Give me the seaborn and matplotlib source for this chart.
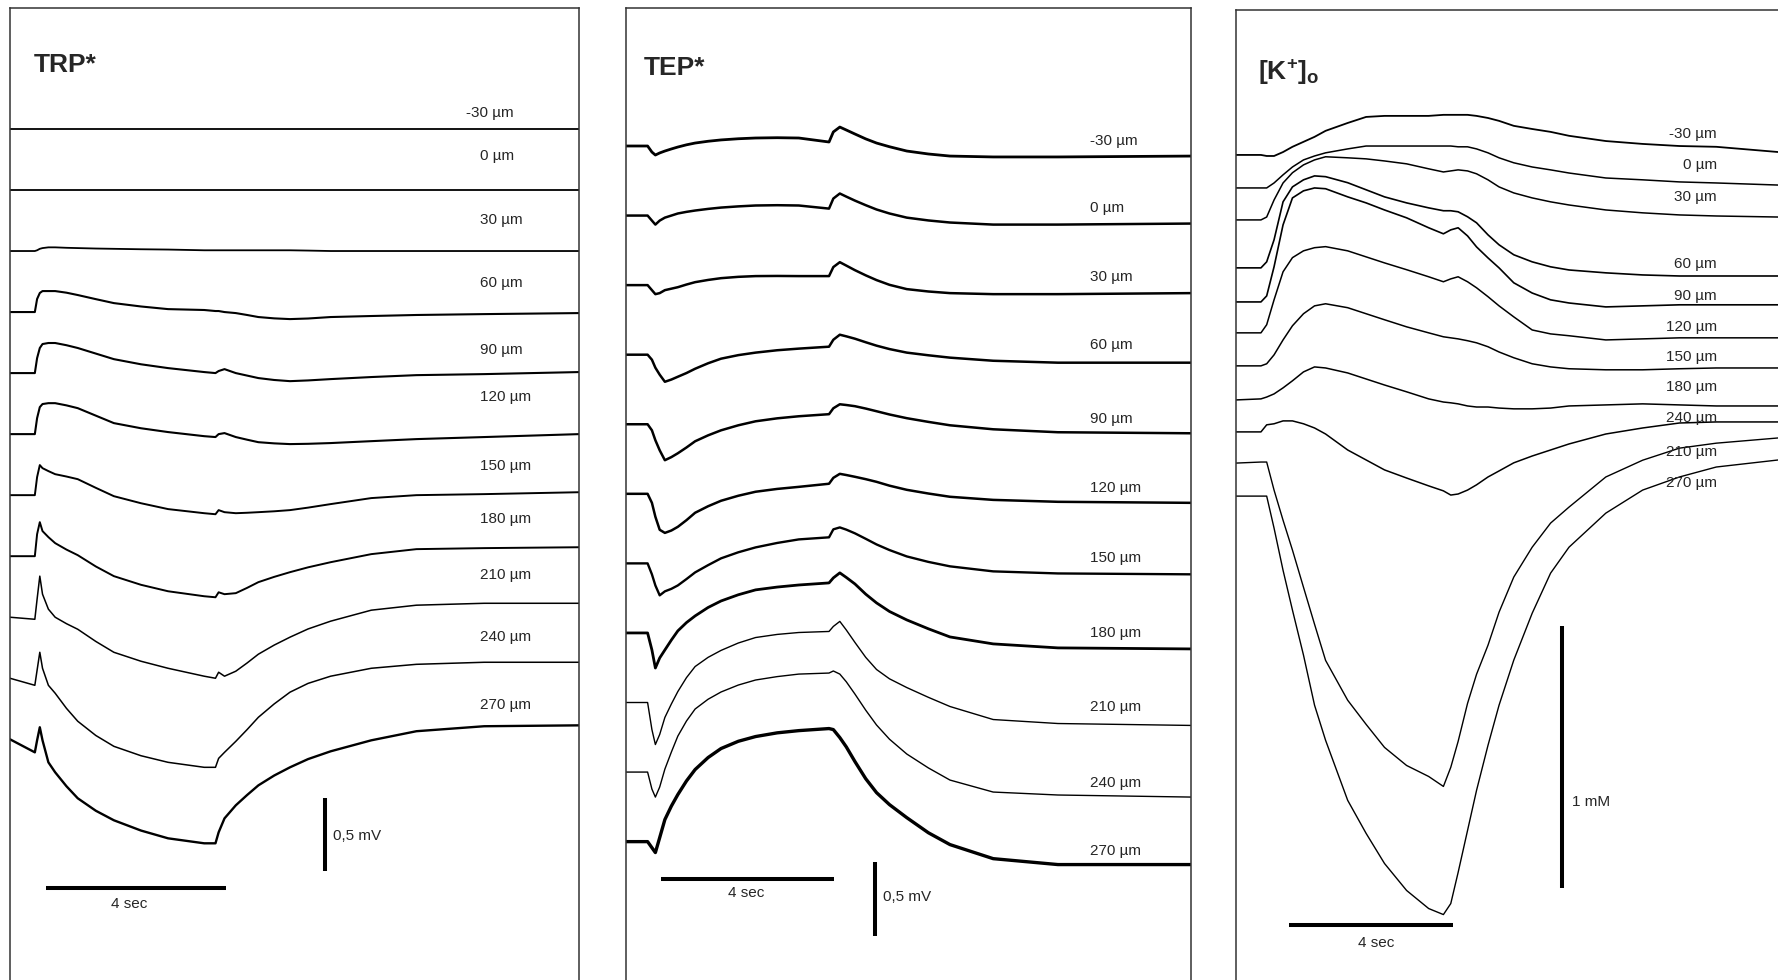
import numpy as np
import matplotlib
matplotlib.use("Agg")
import matplotlib.pyplot as plt
import seaborn as sns

# ---------------- data ----------------
depth_labels = ["-30 µm", "0 µm", "30 µm", "60 µm", "90 µm", "120 µm",
                "150 µm", "180 µm", "210 µm", "240 µm", "270 µm"]
k_labels = ["-30 µm", "0 µm", "30 µm", "60 µm", "90 µm", "120 µm",
            "150 µm", "180 µm", "240 µm", "210 µm", "270 µm"]

# TRP*: time (s), deflection (µV)
trp_time = [0, 0.55, 0.60, 0.66, 0.72, 0.85, 1.0, 1.25, 1.5, 1.9, 2.3, 2.9,
            3.5, 4.3, 4.55, 4.62, 4.75, 5.0, 5.25, 5.5, 5.85, 6.2, 6.6, 7.1,
            8.0, 9.0, 10.5, 12.6]
trp_m30 = [0, 0, 0, 0, 0, 0, 0, 0, 0, 0, 0, 0, 0, 0, 0, 0, 0, 0, 0, 0, 0, 0, 0, 0, 0, 0, 0, 0]
trp_0 = [0, 0, 0, 0, 0, 0, 0, 0, 0, 0, 0, 0, 0, 0, 0, 0, 0, 0, 0, 0, 0, 0, 0, 0, 0, 0, 0, 0]
trp_30 = [0, 0, 5, 15, 20, 25, 25, 22, 20, 17, 15, 12, 10, 5, 5, 5, 5, 5, 5, 5, 5, 5, 3, 0, 0, 0, 0, 0]
trp_60 = [0, 0, 89, 130, 143, 143, 143, 132, 116, 88, 61, 38, 20, 14, 7, 7, 0, -7, -20, -34, -43, -48, -44, -34, -27, -20, -14, -7]
trp_90 = [0, 0, 102, 171, 198, 205, 205, 190, 171, 133, 95, 60, 34, 7, 0, 14, 27, 0, -17, -34, -47, -55, -50, -41, -27, -14, -7, 7]
trp_120 = [0, 0, 109, 184, 205, 211, 211, 196, 177, 126, 75, 40, 14, -14, -20, 0, 7, -20, -38, -55, -63, -68, -66, -61, -48, -34, -20, 0]
trp_150 = [0, 0, 123, 205, 184, 164, 143, 127, 109, 50, -7, -55, -95, -123, -130, -102, -116, -123, -120, -116, -110, -102, -85, -61, -20, 0, 7, 20]
trp_180 = [0, 0, 150, 232, 171, 130, 89, 45, 7, -70, -136, -195, -239, -273, -280, -246, -259, -252, -216, -177, -141, -109, -76, -41, 14, 48, 55, 61]
trp_210 = [0, -14, 123, 280, 157, 55, 0, -44, -82, -165, -239, -300, -348, -402, -416, -375, -402, -368, -312, -252, -190, -136, -80, -27, 48, 82, 95, 95]
trp_240 = [0, -48, 55, 177, 68, -48, -102, -205, -293, -390, -464, -528, -573, -607, -607, -546, -505, -430, -350, -266, -175, -95, -35, 14, 68, 95, 109, 109]
trp_270 = [0, -89, -7, 82, -7, -157, -225, -320, -402, -487, -552, -622, -675, -709, -709, -634, -539, -450, -380, -314, -247, -191, -135, -82, -7, 55, 89, 95]

# TEP*: time (s), deflection (µV)
tep_time = [0, 0.5, 0.6, 0.68, 0.78, 0.9, 1.05, 1.2, 1.4, 1.6, 1.9, 2.2, 2.6,
            3.0, 3.5, 4.0, 4.7, 4.8, 4.95, 5.1, 5.3, 5.55, 5.8, 6.1, 6.5,
            7.0, 7.5, 8.5, 10.0, 13.1]
tep_m30 = [0, 0, -41, -61, -47, -34, -20, -7, 8, 20, 32, 41, 49, 54, 56, 54, 27, 95, 128, 108, 81, 48, 20, -5, -34, -54, -68, -74, -74, -68]
tep_0 = [0, 0, -34, -61, -34, -14, 0, 14, 25, 34, 45, 54, 62, 68, 70, 68, 47, 115, 149, 128, 101, 70, 41, 14, -14, -33, -47, -61, -61, -54]
tep_30 = [0, 0, -34, -61, -54, -34, -24, -14, 4, 20, 35, 47, 56, 61, 62, 61, 61, 122, 155, 132, 101, 66, 34, 2, -27, -43, -54, -61, -61, -54]
tep_60 = [0, 0, -34, -88, -135, -183, -168, -149, -124, -95, -58, -27, -3, 14, 30, 41, 54, 101, 135, 124, 108, 84, 61, 38, 14, -4, -20, -41, -54, -54]
tep_90 = [0, 0, -41, -108, -176, -243, -222, -196, -157, -115, -75, -41, -7, 20, 40, 54, 68, 108, 135, 130, 122, 106, 88, 66, 41, 16, -7, -34, -54, -61]
tep_120 = [0, 0, -61, -155, -243, -264, -248, -223, -178, -128, -84, -47, -13, 14, 33, 47, 68, 108, 135, 127, 115, 99, 81, 55, 27, 2, -20, -41, -54, -61]
tep_150 = [0, 0, -74, -149, -216, -189, -172, -149, -106, -61, -12, 34, 75, 108, 138, 162, 176, 230, 243, 228, 203, 166, 128, 90, 47, 10, -20, -54, -68, -74]
tep_180 = [0, 0, -115, -237, -169, -115, -48, 14, 70, 115, 172, 216, 258, 291, 310, 324, 338, 372, 406, 375, 331, 262, 203, 145, 88, 28, -27, -74, -101, -108]
tep_210 = [0, 0, -183, -284, -216, -101, -10, 74, 168, 243, 305, 352, 402, 439, 460, 473, 480, 514, 548, 490, 406, 305, 223, 160, 101, 35, -27, -115, -142, -155]
tep_240 = [0, 0, -115, -169, -101, 20, 135, 243, 345, 426, 492, 541, 588, 622, 645, 662, 669, 683, 662, 610, 527, 418, 318, 222, 122, 28, -54, -135, -155, -169]
tep_270 = [0, 0, -41, -74, 27, 149, 240, 318, 410, 487, 568, 629, 678, 710, 735, 750, 764, 757, 703, 640, 541, 425, 331, 250, 162, 60, -20, -115, -155, -155]

# [K+]o: time (s), change (µM)
k_time = [0, 0.61, 0.75, 0.93, 1.15, 1.38, 1.65, 1.92, 2.19, 2.73, 3.18, 3.63,
          4.17, 4.71, 5.07, 5.25, 5.43, 5.66, 5.88, 6.16, 6.43, 6.79, 7.24,
          7.69, 8.14, 9.04, 9.94, 10.84, 11.74, 13.26]
k_m30 = [0, 0, -4, -4, 11, 31, 50, 69, 92, 122, 145, 149, 149, 149, 153, 153, 153, 153, 149, 141, 130, 111, 99, 88, 73, 53, 42, 34, 31, 11]
k_0 = [0, 0, 0, 19, 50, 80, 107, 122, 134, 149, 160, 160, 160, 160, 160, 160, 157, 157, 149, 134, 115, 96, 80, 69, 57, 38, 31, 23, 19, 11]
k_30 = [0, 0, 11, 76, 141, 180, 210, 229, 241, 237, 233, 225, 214, 195, 183, 187, 191, 187, 176, 153, 126, 103, 84, 69, 57, 38, 27, 19, 15, 11]
k_60 = [0, 0, 23, 107, 252, 309, 336, 351, 348, 325, 298, 271, 248, 229, 218, 218, 214, 195, 172, 126, 88, 50, 23, 4, -8, -19, -27, -31, -31, -31]
k_90 = [0, 0, 23, 134, 294, 397, 424, 435, 432, 401, 378, 351, 321, 283, 260, 275, 283, 252, 210, 168, 130, 73, 34, 8, -4, -19, -15, -11, -11, -11]
k_120 = [0, 0, 31, 126, 233, 287, 313, 325, 329, 313, 290, 267, 241, 214, 195, 206, 214, 195, 172, 138, 103, 61, 11, -4, -11, -27, -23, -19, -19, -19]
k_150 = [0, 0, 8, 42, 99, 153, 199, 229, 237, 222, 199, 176, 149, 126, 111, 107, 103, 96, 88, 73, 53, 31, 8, -4, -11, -15, -15, -11, -8, -8]
k_180 = [0, 4, 11, 23, 46, 73, 107, 126, 122, 103, 80, 57, 31, 4, -8, -11, -15, -23, -27, -27, -31, -34, -34, -31, -23, -19, -15, -19, -23, -23]
k_240 = [0, 0, 27, 31, 42, 42, 31, 15, -8, -69, -107, -145, -176, -206, -225, -241, -237, -222, -202, -172, -149, -118, -92, -69, -46, -8, 15, 34, 38, 38]
k_210 = [0, 4, 4, -103, -218, -332, -474, -615, -753, -905, -997, -1085, -1154, -1196, -1234, -1161, -1062, -917, -806, -695, -569, -435, -321, -229, -168, -53, 11, 57, 76, 96]
k_270 = [0, 0, 0, -122, -283, -435, -607, -798, -932, -1161, -1287, -1402, -1505, -1574, -1597, -1555, -1436, -1276, -1123, -951, -798, -626, -447, -294, -195, -65, 23, 73, 111, 138]

trp_traces = [trp_m30, trp_0, trp_30, trp_60, trp_90, trp_120, trp_150,
              trp_180, trp_210, trp_240, trp_270]
tep_traces = [tep_m30, tep_0, tep_30, tep_60, tep_90, tep_120, tep_150,
              tep_180, tep_210, tep_240, tep_270]
k_traces = [k_m30, k_0, k_30, k_60, k_90, k_120, k_150, k_180, k_240,
            k_210, k_270]

# ---------------- layout ----------------
trp_spacing = 0.416   # mV between stacked traces
tep_spacing = 0.470
k_offsets = [0, -0.126, -0.248, -0.431, -0.561, -0.679, -0.805, -0.935,
             -1.057, -1.176, -1.302]

trp_lw = [1.3, 1.3, 1.3, 1.5, 1.5, 1.5, 1.4, 1.4, 1.1, 1.1, 1.7]
tep_lw = [2.0, 1.8, 1.8, 1.8, 1.8, 1.8, 1.7, 2.0, 1.0, 1.0, 2.4]
k_lw = [1.3, 1.1, 1.1, 1.2, 1.2, 1.1, 1.1, 1.1, 1.1, 1.0, 1.0]

trp_label_y = [0.109, -0.184, -0.620, -1.050, -1.506, -1.827, -2.297, -2.658,
               -3.040, -3.463, -3.926]
tep_label_y = [0.034, -0.419, -0.885, -1.345, -1.845, -2.311, -2.784, -3.291,
               -3.791, -4.304, -4.764]
k_label_y = [0.080, -0.038, -0.160, -0.416, -0.538, -0.656, -0.771, -0.885,
             -1.004, -1.134, -1.252]

sns.set_theme(style="white")
plt.rcParams["font.family"] = ["Liberation Sans", "DejaVu Sans"]
plt.rcParams["mathtext.fontset"] = "custom"
plt.rcParams["mathtext.rm"] = "Liberation Sans"
plt.rcParams["mathtext.bf"] = "Liberation Sans:bold"
plt.rcParams["mathtext.it"] = "Liberation Sans:italic"

W, H = 1778, 980
fig = plt.figure(figsize=(W / 100, H / 100), dpi=100, facecolor="white")


def add_panel(left_px, width_px, top_px, bottom_px=1000):
    return fig.add_axes([left_px / W, 1 - bottom_px / H, width_px / W,
                         (bottom_px - top_px) / H])


def draw_traces(ax, time, traces, offsets, lws, scale=1000.0):
    for tr, off, lw in zip(traces, offsets, lws):
        y = off + np.asarray(tr, dtype=float) / scale
        sns.lineplot(x=np.asarray(time, dtype=float), y=y, ax=ax,
                     color="black", linewidth=lw, estimator=None,
                     sort=False, legend=False)


def style_axes(ax, xlim, ylim):
    ax.set_xlim(*xlim)
    ax.set_ylim(*ylim)
    ax.set_xticks([])
    ax.set_yticks([])
    ax.set_xlabel("")
    ax.set_ylabel("")
    ax.set_facecolor("white")
    for s in ax.spines.values():
        s.set_visible(True)
        s.set_color("#333333")
        s.set_linewidth(1.1)


def scale_bars(ax, hx, hy, vx, vy, vlabel, vlabel_xy, hlabel_xy):
    ax.plot(hx, [hy, hy], color="black", lw=2.9, solid_capstyle="butt")
    ax.plot([vx, vx], vy, color="black", lw=2.9, solid_capstyle="butt")
    ax.text(*vlabel_xy, vlabel, ha="left", va="center", fontsize=11)
    ax.text(*hlabel_xy, "4 sec", ha="center", va="center", fontsize=11)


LABEL_FS = 11

# ---- panel 1: TRP* ----
ax1 = add_panel(10, 569, 8.5)
draw_traces(ax1, trp_time, trp_traces,
            [-i * trp_spacing for i in range(len(trp_traces))], trp_lw)
style_axes(ax1, (0, 12.60), (-5.937, 0.821))
ax1.text(0.525, 0.389, "TRP*", fontsize=19, fontweight="bold",
         ha="left", va="baseline")
for lab, ly in zip(depth_labels, trp_label_y):
    lx = 10.09 if lab.startswith("-") else 10.40
    ax1.text(lx, ly, lab, ha="left", va="center", fontsize=LABEL_FS)
scale_bars(ax1, [0.79, 4.79], -5.174, 6.97, [-4.56, -5.06], "0,5 mV",
           (7.15, -4.82), (2.65, -5.283))

# ---- panel 2: TEP* ----
ax2 = add_panel(626, 565, 8.5)
draw_traces(ax2, tep_time, tep_traces,
            [-i * tep_spacing for i in range(len(tep_traces))], tep_lw)
style_axes(ax2, (0, 13.08), (-5.770, 0.929))
ax2.text(0.41, 0.480, "TEP*", fontsize=19, fontweight="bold",
         ha="left", va="baseline")
for lab, ly in zip(depth_labels, tep_label_y):
    ax2.text(10.75, ly, lab, ha="left", va="center", fontsize=LABEL_FS)
scale_bars(ax2, [0.82, 4.82], -4.953, 5.77, [-4.836, -5.336], "0,5 mV",
           (5.95, -5.074), (2.785, -5.047))

# ---- panel 3: [K+]o ----
ax3 = add_panel(1236, 567, 9.5)
draw_traces(ax3, k_time, k_traces, k_offsets, k_lw)
style_axes(ax3, (0, 13.86), (-3.225, 0.555))
ax3.text(0.55, 0.286, r"$\mathbf{[K^{+}]_{o}}$", fontsize=19,
         ha="left", va="baseline")
for lab, ly in zip(k_labels, k_label_y):
    ax3.text(11.76, ly, lab, ha="right", va="center", fontsize=LABEL_FS)
scale_bars(ax3, [1.30, 5.30], -2.940, 7.98, [-1.798, -2.798], "1 mM",
           (8.21, -2.469), (3.42, -3.008))

fig.savefig("out.png", dpi=100, facecolor="white")
